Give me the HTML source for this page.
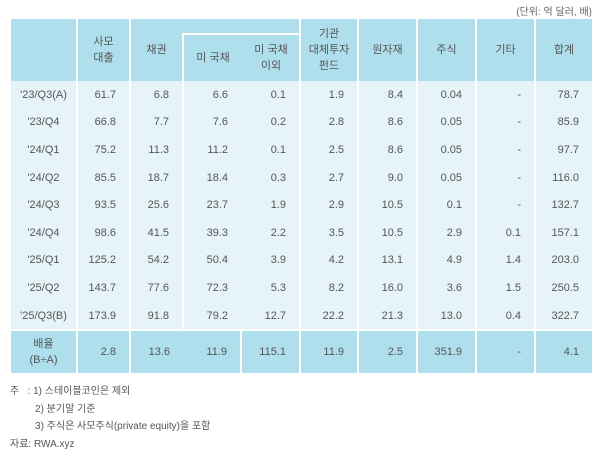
<!DOCTYPE html>
<html><head><meta charset="utf-8"><style>
body{margin:0;background:#fff;width:600px;height:451px;overflow:hidden;font-family:"Liberation Sans","Noto Sans CJK KR",sans-serif;color:#555;position:relative}
.unit{position:absolute;right:8px;top:3px;font-size:10px;color:#666}
.hbg{position:absolute;left:11px;top:19px;width:581px;height:62px;background:#afdfec}
.v{position:absolute;width:2px;background:#fff;top:19px;height:62px}
.h{position:absolute;font-size:11px;line-height:16px;text-align:center;display:flex;align-items:center;justify-content:center}
table{position:absolute;left:11px;top:81px;border-collapse:collapse;table-layout:fixed;font-size:11px}
td{padding:0;text-align:right;padding-right:13px;white-space:nowrap}
tbody tr.d td{background:#e6f4f9;height:27.6px;border-left:2px solid #fff}
tbody tr.d td.s{border-left:none}
td.f{text-align:center;padding:0}
tr.r td{background:#afdfec;height:42px;border-left:2px solid #fff;border-top:2px solid #fff}
tr.r td.s{border-left:none}
td:first-child{border-left:none!important}
.notes{position:absolute;left:10px;top:383px;font-size:10px;line-height:17.5px;color:#555}
</style></head><body>
<div class="unit">(단위: 억 달러, 배)</div>
<div class="hbg"></div>
<div class="v" style="left:76px"></div>
<div class="v" style="left:129px"></div>
<div class="v" style="left:182px;top:34px;height:47px"></div>
<div class="v" style="left:299px"></div>
<div class="v" style="left:357px"></div>
<div class="v" style="left:416px"></div>
<div class="v" style="left:475px"></div>
<div class="v" style="left:534px"></div>
<div style="position:absolute;left:182px;top:33px;width:118px;height:2px;background:#fff"></div>
<div class="h" style="left:78px;width:51px;top:19px;height:62px">사모<br>대출</div>
<div class="h" style="left:131px;width:51px;top:19px;height:62px">채권</div>
<div class="h" style="left:184px;width:58px;top:35px;height:46px">미 국채</div>
<div class="h" style="left:242px;width:58px;top:35px;height:46px">미 국채<br>이외</div>
<div class="h" style="left:301px;width:56px;top:19px;height:62px">기관<br>대체투자<br>펀드</div>
<div class="h" style="left:359px;width:57px;top:19px;height:62px">원자재</div>
<div class="h" style="left:418px;width:57px;top:19px;height:62px">주식</div>
<div class="h" style="left:477px;width:57px;top:19px;height:62px">기타</div>
<div class="h" style="left:536px;width:56px;top:19px;height:62px">합계</div>
<table>
<colgroup><col style="width:66px"><col style="width:53px"><col style="width:53px"><col style="width:58px"><col style="width:59px"><col style="width:58px"><col style="width:59px"><col style="width:59px"><col style="width:59px"><col style="width:57px"></colgroup>
<tbody>
<tr class="d"><td class="f">'23/Q3(A)</td><td>61.7</td><td>6.8</td><td>6.6</td><td class="s">0.1</td><td>1.9</td><td>8.4</td><td>0.04</td><td>-</td><td>78.7</td></tr>
<tr class="d"><td class="f">'23/Q4</td><td>66.8</td><td>7.7</td><td>7.6</td><td class="s">0.2</td><td>2.8</td><td>8.6</td><td>0.05</td><td>-</td><td>85.9</td></tr>
<tr class="d"><td class="f">'24/Q1</td><td>75.2</td><td>11.3</td><td>11.2</td><td class="s">0.1</td><td>2.5</td><td>8.6</td><td>0.05</td><td>-</td><td>97.7</td></tr>
<tr class="d"><td class="f">'24/Q2</td><td>85.5</td><td>18.7</td><td>18.4</td><td class="s">0.3</td><td>2.7</td><td>9.0</td><td>0.05</td><td>-</td><td>116.0</td></tr>
<tr class="d"><td class="f">'24/Q3</td><td>93.5</td><td>25.6</td><td>23.7</td><td class="s">1.9</td><td>2.9</td><td>10.5</td><td>0.1</td><td>-</td><td>132.7</td></tr>
<tr class="d"><td class="f">'24/Q4</td><td>98.6</td><td>41.5</td><td>39.3</td><td class="s">2.2</td><td>3.5</td><td>10.5</td><td>2.9</td><td>0.1</td><td>157.1</td></tr>
<tr class="d"><td class="f">'25/Q1</td><td>125.2</td><td>54.2</td><td>50.4</td><td class="s">3.9</td><td>4.2</td><td>13.1</td><td>4.9</td><td>1.4</td><td>203.0</td></tr>
<tr class="d"><td class="f">'25/Q2</td><td>143.7</td><td>77.6</td><td>72.3</td><td class="s">5.3</td><td>8.2</td><td>16.0</td><td>3.6</td><td>1.5</td><td>250.5</td></tr>
<tr class="d"><td class="f">'25/Q3(B)</td><td>173.9</td><td>91.8</td><td>79.2</td><td class="s">12.7</td><td>22.2</td><td>21.3</td><td>13.0</td><td>0.4</td><td>322.7</td></tr>
<tr class="r"><td class="f" style="line-height:16px">배율<br>(B÷A)</td><td>2.8</td><td>13.6</td><td class="s">11.9</td><td>115.1</td><td>11.9</td><td>2.5</td><td>351.9</td><td>-</td><td>4.1</td></tr>
</tbody></table>
<div class="notes">주&nbsp;&nbsp;&nbsp;: 1) 스테이블코인은 제외<br>&nbsp;&nbsp;&nbsp;&nbsp;&nbsp;&nbsp;&nbsp;&nbsp;&nbsp;2) 분기말 기준<br>&nbsp;&nbsp;&nbsp;&nbsp;&nbsp;&nbsp;&nbsp;&nbsp;&nbsp;3) 주식은 사모주식(private equity)을 포함<br>자료: RWA.xyz</div>
</body></html>
